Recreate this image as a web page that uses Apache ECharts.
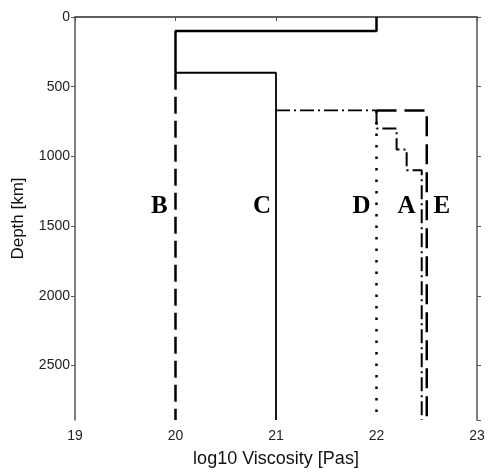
<!DOCTYPE html>
<html>
<head>
<meta charset="utf-8">
<script src="https://cdn.jsdelivr.net/npm/echarts@6/dist/echarts.min.js"></script>
<style>
    html, body {margin: 0; padding: 0; background: #fff;}
    #chart {width: 492px; height: 468px;}
</style>
</head>
<body>
<div id="chart"></div>
<script>
const CMB = 2891;

// [log10 viscosity, depth km]
const upperShared = [[22, 0], [22, 100], [20, 100], [20, 400]];
const modelB = [[20, 400], [20, CMB]];
const modelC = [[20, 400], [21, 400], [21, CMB]];
const lowerTop = [[21, 670], [22, 670]];
const modelA = [[22, 670], [22, 800], [22.2, 800], [22.2, 950], [22.3, 950], [22.3, 1100], [22.45, 1100], [22.45, CMB]];
const modelD = [[22, 670], [22, CMB]];
const modelE = [[22, 670], [22.5, 670], [22.5, CMB]];

const labelNames = ['B', 'C', 'D', 'A', 'E'];
const labelX = [19.84, 20.86, 21.85, 22.3, 22.65];
const labelDepth = 1360;

let myChart = echarts.init(document.getElementById('chart'));

function lineSeries(name, data, type, width) {
    return {
        name: name,
        type: 'line',
        data: data,
        symbol: 'none',
        animation: false,
        lineStyle: {color: '#000', width: width, type: type}
    };
}

const DASH_DOT = [14, 4, 2, 4];
const AXIS_COLOR = '#555';

let option = {
    animation: false,
    grid: {left: 75, right: 15, top: 17, bottom: 48, outerBoundsMode: 'none', containLabel: false},
    xAxis: [{
        type: 'value',
        min: 19, max: 23, interval: 1,
        name: 'log10 Viscosity [Pas]',
        nameLocation: 'middle',
        nameGap: 30,
        nameTextStyle: {fontFamily: 'Liberation Sans', fontSize: 18, color: '#111'},
        axisLine: {lineStyle: {color: AXIS_COLOR, width: 1.5}},
        axisTick: {length: 4, lineStyle: {color: AXIS_COLOR}},
        axisLabel: {fontFamily: 'Liberation Sans', fontSize: 14, color: '#222', margin: 9},
        splitLine: {show: false}
    }, {
        type: 'value',
        position: 'top',
        min: 19, max: 23, interval: 1,
        axisLine: {show: true, lineStyle: {color: AXIS_COLOR, width: 1.5}},
        axisTick: {show: false},
        axisLabel: {show: false},
        splitLine: {show: false}
    }],
    yAxis: [{
        type: 'value',
        inverse: true,
        min: 0, max: CMB, interval: 500,
        name: 'Depth [km]',
        nameLocation: 'middle',
        nameGap: 48,
        nameTextStyle: {fontFamily: 'Liberation Sans', fontSize: 17, color: '#111'},
        axisLine: {show: true, lineStyle: {color: AXIS_COLOR, width: 1.5}},
        axisTick: {show: true, length: 4, lineStyle: {color: AXIS_COLOR}},
        axisLabel: {
            fontFamily: 'Liberation Sans', fontSize: 14, color: '#222', margin: 5,
            showMaxLabel: false,
            formatter: v => String(v)
        },
        splitLine: {show: false}
    }, {
        type: 'value',
        inverse: true,
        position: 'right',
        min: 0, max: CMB, interval: 500,
        axisLine: {show: true, lineStyle: {color: AXIS_COLOR, width: 1.5}},
        axisTick: {show: true, length: 4, lineStyle: {color: AXIS_COLOR}},
        axisLabel: {show: false},
        splitLine: {show: false}
    }],
    series: [
        lineSeries('shared', upperShared, 'solid', 2.5),
        lineSeries('B', modelB, [17, 7], 2.5),
        lineSeries('C', modelC, 'solid', 1.8),
        lineSeries('top', lowerTop, DASH_DOT, 1.8),
        lineSeries('D', modelD, [2.5, 9], 2.5),
        lineSeries('A', modelA, DASH_DOT, 2),
        lineSeries('E', modelE, [20, 8], 2.5),
        {
            type: 'scatter',
            symbolSize: 1,
            itemStyle: {opacity: 0},
            animation: false,
            data: labelNames.map((n, i) => [labelX[i], labelDepth, n]),
            label: {
                show: true,
                position: 'inside',
                formatter: p => p.data[2],
                fontFamily: 'Liberation Serif',
                fontWeight: 'bold',
                fontSize: 25,
                color: '#000',
                opacity: 1
            }
        }
    ]
};

myChart.setOption(option);
</script>
</body>
</html>
